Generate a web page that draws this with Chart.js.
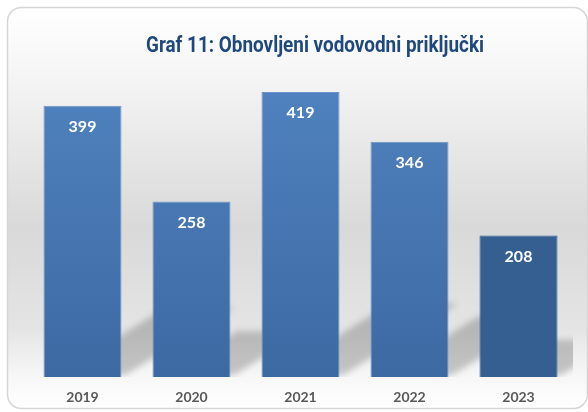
<!DOCTYPE html>
<html>
<head>
<meta charset="utf-8">
<script src="https://cdn.jsdelivr.net/npm/chart.js@4"></script>
<style>
  html, body { margin: 0; padding: 0; background: #ffffff; }
  #wrap { width: 588px; height: 412px; position: relative; }
</style>
</head>
<body>
<div id="wrap"><canvas id="chart"></canvas></div>
<script>
const years = ['2019', '2020', '2021', '2022', '2023'];
const connections = [399, 258, 419, 346, 208];
const chartTitle = 'Graf 11: Obnovljeni vodovodni priključki';

// frame + soft grey background behind everything
const framePlugin = {
    id: 'frame',
    beforeDraw(chart) {
        const ctx = chart.ctx;
        const x = 7.5, y = 7.5, w = 580, h = 401, r = 14;
        ctx.save();
        const g = ctx.createLinearGradient(0, y, 0, y + h);
        g.addColorStop(0, '#ffffff');
        g.addColorStop(0.14, '#f7f7f7');
        g.addColorStop(0.55, '#d9d9d9');
        g.addColorStop(0.8, '#e4e4e4');
        g.addColorStop(0.92, '#f7f7f7');
        g.addColorStop(1, '#ffffff');
        ctx.beginPath();
        ctx.roundRect(x, y, w, h, r);
        ctx.fillStyle = g;
        ctx.fill();
        ctx.lineWidth = 1.5;
        ctx.strokeStyle = '#d6d6d6';
        ctx.stroke();
        ctx.restore();
    }
};

// condensed title, drawn by hand so it can be squeezed like the original
const titlePlugin = {
    id: 'condTitle',
    afterDraw(chart) {
        const ctx = chart.ctx;
        ctx.save();
        ctx.font = 'bold 22px Roboto';
        ctx.fillStyle = '#1f497d';
        ctx.textAlign = 'center';
        ctx.textBaseline = 'middle';
        const wanted = 338;
        const sx = Math.min(1, wanted / ctx.measureText(chartTitle).width);
        ctx.translate(315, 46);
        ctx.scale(sx, 1);
        ctx.fillText(chartTitle, 0, 0);
        ctx.restore();
    }
};

// skewed shadow behind each bar
const shadowPlugin = {
    id: 'barShadow',
    beforeDatasetsDraw(chart) {
        const ctx = chart.ctx;
        const area = chart.chartArea;
        const bars = chart.getDatasetMeta(0).data;
        ctx.save();
        ctx.beginPath();
        ctx.rect(area.left, area.top, area.right - area.left, area.bottom - area.top);
        ctx.clip();
        ctx.filter = 'blur(3px)';
        ctx.fillStyle = 'rgba(0,0,0,0.2)';
        bars.forEach(bar => {
            const left = bar.x - bar.width / 2;
            const right = bar.x + bar.width / 2;
            const h = bar.base - bar.y;
            const dx = h * 0.4, dy = h * 0.25;
            ctx.beginPath();
            ctx.moveTo(left + 14, bar.base - 2);
            ctx.lineTo(right + 4, bar.base - 2);
            ctx.lineTo(right + 4 + dx, bar.base - 2 - dy);
            ctx.lineTo(left + 14 + dx, bar.base - 2 - dy);
            ctx.closePath();
            ctx.fill();
        });
        ctx.restore();
    }
};

// white value labels inside bar tops
const valuePlugin = {
    id: 'values',
    afterDatasetsDraw(chart) {
        const ctx = chart.ctx;
        const bars = chart.getDatasetMeta(0).data;
        ctx.save();
        ctx.font = 'bold 16px Lato';
        ctx.fillStyle = '#ffffff';
        ctx.textAlign = 'center';
        ctx.textBaseline = 'middle';
        bars.forEach((bar, i) => {
            ctx.fillText(connections[i], bar.x, bar.y + 21);
        });
        ctx.restore();
    }
};

const barFill = (context) => {
    const chart = context.chart;
    if (!chart.chartArea) return '#4a7ab5';
    if (context.dataIndex === connections.length - 1) return '#355f91';
    const g = chart.ctx.createLinearGradient(0, chart.chartArea.top, 0, chart.chartArea.bottom);
    g.addColorStop(0, '#5083c0');
    g.addColorStop(1, '#3d69a2');
    return g;
};

new Chart(document.getElementById('chart'), {
    type: 'bar',
    data: {
        labels: years,
        datasets: [{
            data: connections,
            backgroundColor: barFill,
            borderColor: (c) => c.dataIndex === connections.length - 1 ? '#355f91' : '#6d93c6',
            borderWidth: 1,
            barPercentage: 0.716,
            categoryPercentage: 1
        }]
    },
    options: {
        responsive: true,
        maintainAspectRatio: false,
        animation: false,
        layout: { padding: { left: 28, right: 15, top: 71, bottom: 0 } },
        plugins: {
            legend: { display: false },
            tooltip: { enabled: false },
            title: { display: false }
        },
        scales: {
            x: {
                grid: { display: false },
                border: { display: false },
                afterFit(scale) { scale.height = 35; },
                ticks: {
                    color: '#595959',
                    padding: 4,
                    maxRotation: 0,
                    font: { family: 'Lato', size: 14, weight: 'bold' }
                }
            },
            y: {
                display: false,
                min: 0,
                max: 450
            }
        }
    },
    plugins: [framePlugin, shadowPlugin, valuePlugin, titlePlugin]
});
</script>
</body>
</html>
